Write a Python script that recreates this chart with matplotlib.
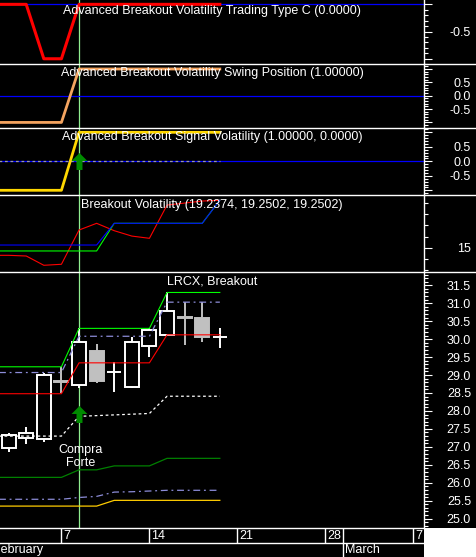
import numpy as np
import matplotlib
matplotlib.use('Agg')
import matplotlib.pyplot as plt
from matplotlib.lines import Line2D
from matplotlib.patches import Rectangle
from matplotlib.path import Path
from matplotlib.ticker import MultipleLocator

plt.rcParams['font.family'] = 'Liberation Sans'

# trading-day index, 0 = Feb 7
idx = np.arange(-4, 10)
candle_idx = idx[1:]
signal_idx = 1

# OHLC, Feb 2 .. Feb 18
opens = [26.98, 27.24, 27.22, 28.83, 28.72, 29.67, 29.09, 28.66, 29.81, 30.12, 30.63, 30.60, 30.07]
highs = [27.38, 27.56, 29.05, 29.23, 30.30, 29.86, 29.37, 30.07, 30.32, 31.30, 31.04, 31.03, 30.30]
lows = [26.86, 27.07, 27.14, 28.49, 28.63, 28.77, 28.54, 28.64, 29.49, 30.10, 29.84, 29.93, 29.75]
closes = [27.33, 27.39, 29.00, 28.80, 29.92, 28.84, 29.09, 29.93, 30.26, 30.79, 30.60, 30.07, 30.07]

# breakout bands on the price panel
band_high = [29.23] * 5 + [30.30] * 5 + [31.30] * 4
band_low = [28.48] * 5 + [29.34] * 5 + [30.12] * 4
band_mid = [29.07] * 5 + [30.08] * 5 + [31.03] * 4
stop_line = [27.30] * 5 + [27.85, 27.87, 27.89, 27.91, 27.93] + [28.41] * 4
support_1 = [26.15] * 5 + [26.36, 26.36, 26.47, 26.47, 26.47] + [26.68] * 4
support_2 = [25.54] * 5 + [25.59, 25.62, 25.74, 25.75, 25.77] + [25.79] * 4
support_3 = [25.35] * 7 + [25.51] * 7
arrow_price = 27.91

# volatility panel
vol_red = [14.32, 14.32, 14.26, 13.43, 13.52, 16.58, 17.18, 16.52, 16.04, 15.84, 18.81, 18.99, 19.17, 19.2374]
vol_blue = [15.24] * 7 + [17.18] * 6 + [19.2502]
vol_green = [14.71] * 7 + [17.18] * 6 + [19.2502]

# oscillator panels
trade_type = [0, 0, 0, -1, -1, 0, 0, 0, 0, 0, 0, 0, 0, 0]
swing_pos = [-1] * 5 + [1] * 9
signal_vol = [-1] * 5 + [1] * 9
signal_aux = [0] * 14

date_idx = [0, 5, 10, 15, 20]
date_labels = ['7', '14', '21', '28', '7']
month_idx = [-4, 16]
month_labels = ['February', 'March']

W, H = 476, 557
XMIN, XMAX = -3.49, 20.6
FS = 9

fig = plt.figure(figsize=(W / 100, H / 100), dpi=100, facecolor='black')


def px_axes(top, bottom):
    return fig.add_axes([0, 1 - bottom / H, 424 / W, (bottom - top) / H])


def setup(ax, ylim, majors, labels, minor):
    ax.set_facecolor('black')
    ax.set_xlim(XMIN, XMAX)
    ax.set_ylim(*ylim)
    for s in ['left', 'top', 'bottom']:
        ax.spines[s].set_visible(False)
    ax.spines['right'].set_color('white')
    ax.spines['right'].set_linewidth(1.0)
    ax.set_xticks([])
    ax.yaxis.tick_right()
    ax.set_yticks(majors)
    ax.set_yticklabels(labels)
    ax.yaxis.set_minor_locator(MultipleLocator(minor))
    ax.tick_params(axis='y', which='major', colors='white', length=5.8, width=0.8,
                   pad=28, labelsize=FS)
    ax.tick_params(axis='y', which='minor', colors='white', length=2.9, width=0.8)
    for t in ax.get_yticklabels():
        t.set_horizontalalignment('right')
    ax.axvline(signal_idx, color='#90ee90', lw=0.9, zorder=1)


# up arrow marker
arrow = Path([(0, 8.5), (8, 0.5), (3, 0.5), (3, -8.5), (-3, -8.5), (-3, 0.5), (-8, 0.5), (0, 8.5)],
             [Path.MOVETO] + [Path.LINETO] * 6 + [Path.CLOSEPOLY])

ax1 = px_axes(0, 63.5)
setup(ax1, (-1.087, 0.08), [-1, -0.5, 0], ['', '-0.5', ''], 0.1)
ax1.axhline(0, color='blue', lw=0.9, zorder=1)
ax1.plot(idx, trade_type, color='red', lw=2.2, zorder=3)

ax2 = px_axes(63.5, 127.5)
setup(ax2, (-1.19, 1.206), [-1, -0.5, 0, 0.5, 1], ['', '-0.5', '0.0', '0.5', ''], 0.1)
ax2.axhline(0, color='blue', lw=0.9, zorder=1)
ax2.plot(idx, swing_pos, color='#f4a460', lw=2.0, zorder=3)

ax3 = px_axes(127.5, 195)
setup(ax3, (-1.162, 1.166), [-1, -0.5, 0, 0.5, 1], ['', '-0.5', '0.0', '0.5', ''], 0.1)
ax3.axhline(0, color='blue', lw=0.9, zorder=1)
ax3.plot(idx, signal_aux, color='#9a9aaa', lw=0.9, dashes=(2.2, 2.2), zorder=2)
ax3.plot(idx, signal_vol, color='#ffd700', lw=2.0, zorder=3)
ax3.plot([signal_idx], [0], marker=arrow, markersize=12.2, color='#008c00', mew=0, zorder=4)

ax4 = px_axes(195, 272)
setup(ax4, (12.83, 19.71), [15], ['15'], 1)
ax4.plot(idx, vol_red, color='red', lw=0.8, zorder=3)
ax4.plot(idx, vol_green, color='#00ff00', lw=0.8, zorder=3)
ax4.plot(idx, vol_blue, color='blue', lw=0.8, zorder=4)

ax5 = px_axes(272, 528)
setup(ax5, (24.74, 31.87), np.arange(25, 31.6, 0.5),
      ['%.1f' % v for v in np.arange(25, 31.6, 0.5)], 0.1)
o, h, l, c = map(np.array, (opens, highs, lows, closes))
up = c >= o
face = np.where(up, 'black', '#c0c0c0')
edge = np.where(up, 'white', '#c0c0c0')
ax5.vlines(candle_idx, l, h, colors=edge, lw=1.4, zorder=2)
ax5.bar(candle_idx, np.abs(c - o), bottom=np.minimum(o, c), width=0.8,
        color=face, edgecolor=edge, linewidth=1.4, zorder=3)
ax5.plot(idx, band_high, color='#00ff00', lw=0.8, zorder=4)
ax5.plot(idx, band_low, color='red', lw=0.8, zorder=4)
ax5.plot(idx, band_mid, color='#8c8cd8', lw=0.9, dashes=(5.5, 3, 1.5, 3), zorder=4)
ax5.plot(idx, stop_line, color='white', lw=0.9, dashes=(2.2, 2.2), zorder=4)
ax5.plot(idx, support_1, color='#008000', lw=0.9, zorder=4)
ax5.plot(idx, support_2, color='#8c8cd8', lw=0.9, dashes=(5.5, 3, 1.5, 3), zorder=4)
ax5.plot(idx, support_3, color='#ffcc00', lw=0.9, zorder=4)
ax5.plot([signal_idx], [arrow_price], marker=arrow, markersize=12.2, color='#008c00', mew=0, zorder=5)
ax5.text(signal_idx + 0.1, 26.73, 'Compra\nForte', color='white', fontsize=FS,
         ha='center', va='center', linespacing=1.1, zorder=5)

# date strip
axd = px_axes(528, 557)
axd.set_xlim(XMIN, XMAX)
axd.set_ylim(0, 2)
axd.set_axis_off()
axd.vlines(date_idx, 1, 2, color='white', lw=1.0)
axd.vlines(month_idx[1:], 0, 2, color='white', lw=1.0)
for i, lab in zip(date_idx, date_labels):
    axd.text(i + 0.12, 1.48, lab, color='white', fontsize=FS, ha='left', va='center', clip_on=True)
for i, lab in zip(month_idx, month_labels):
    axd.text(i + 0.12, 0.48, lab, color='white', fontsize=FS, ha='left', va='center', clip_on=True)

for y in [63.5, 127.5, 195, 272]:
    fig.add_artist(Line2D([0, 1], [1 - y / H] * 2, transform=fig.transFigure, color='white', lw=1.0))
for y in [528, 542.5]:
    fig.add_artist(Line2D([0, 424 / W], [1 - y / H] * 2, transform=fig.transFigure, color='white', lw=1.0))
fig.add_artist(Rectangle((424 / W, 0), 52 / W, 29 / H, transform=fig.transFigure,
                         facecolor='white', edgecolor='none'))

titles = [
    (11, 'Advanced Breakout Volatility Trading Type C (0.0000)'),
    (73.3, 'Advanced Breakout Volatility Swing Position (1.00000)'),
    (137.3, 'Advanced Breakout Signal Volatility (1.00000, 0.0000)'),
    (205, 'Breakout Volatility (19.2374, 19.2502, 19.2502)'),
    (281, 'LRCX, Breakout'),
]
for y, t in titles:
    fig.text(212 / W, 1 - y / H, t, color='white', fontsize=FS, ha='center', va='center', zorder=10)

fig.savefig('out.png', dpi=100, facecolor='black')
